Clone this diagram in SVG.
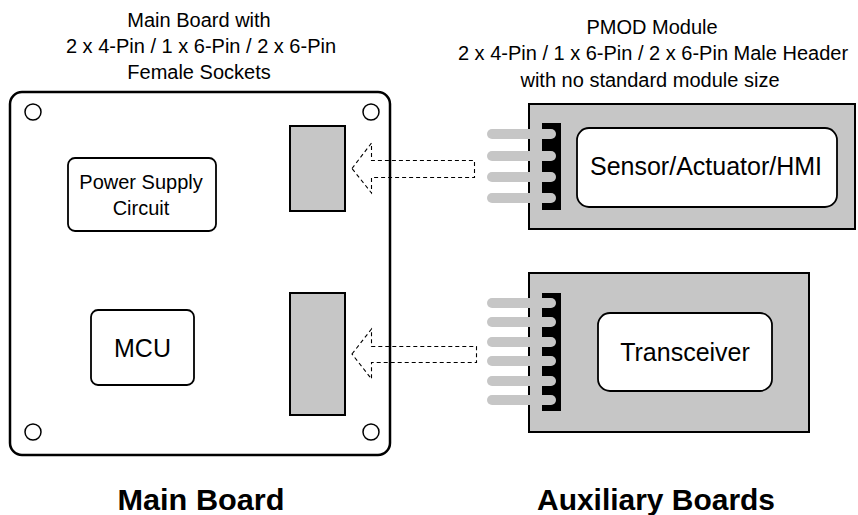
<svg xmlns="http://www.w3.org/2000/svg" width="858" height="515" viewBox="0 0 858 515">
<style>
text{font-family:"Liberation Sans",Arial,sans-serif;fill:#000;text-anchor:middle}
.t{font-size:20px}
.b{font-size:25px}
.h{font-size:30px;font-weight:bold}
.box{fill:#fff;stroke:#000;stroke-width:1.8}
.gray{fill:#c6c6c6;stroke:#000;stroke-width:2}
.hole{fill:#fff;stroke:#000;stroke-width:1.5}
.pin{stroke:#c6c6c6;stroke-width:10;stroke-linecap:round}
.arrow{fill:none;stroke:#000;stroke-width:1.1;stroke-dasharray:4 3}
</style>
<rect width="858" height="515" fill="#fff"/>
<g id="title-left">
<text class="t" x="199" y="27">Main Board with</text>
<text class="t" x="201" y="53">2 x 4-Pin / 1 x 6-Pin / 2 x 6-Pin</text>
<text class="t" x="199" y="79">Female Sockets</text>
</g>
<g id="title-right">
<text class="t" x="652" y="34">PMOD Module</text>
<text class="t" x="653" y="60">2 x 4-Pin / 1 x 6-Pin / 2 x 6-Pin Male Header</text>
<text class="t" x="650" y="87">with no standard module size</text>
</g>
<g id="main-board">
<rect x="10" y="92" width="380" height="363" rx="12" fill="#fff" stroke="#000" stroke-width="2.5"/>
<circle class="hole" cx="33" cy="112" r="8"/>
<circle class="hole" cx="371" cy="112" r="8"/>
<circle class="hole" cx="33" cy="432" r="8"/>
<circle class="hole" cx="371" cy="432" r="8"/>
</g>
<g id="power-supply">
<rect class="box" x="68" y="158" width="148" height="73" rx="7"/>
<text class="t" x="141" y="189">Power Supply</text>
<text class="t" x="141" y="215">Circuit</text>
</g>
<g id="mcu">
<rect class="box" x="91" y="310" width="103" height="75" rx="7"/>
<text class="b" x="142.5" y="357">MCU</text>
</g>
<g id="socket-1"><rect class="gray" x="290" y="126" width="55" height="85"/></g>
<g id="socket-2"><rect class="gray" x="290" y="293" width="55" height="122"/></g>
<g id="module-1">
<rect class="gray" x="529" y="104" width="326" height="125"/>
<rect x="542" y="123" width="19" height="87" fill="#000"/>
<line class="pin" x1="492" y1="134" x2="551" y2="134"/>
<line class="pin" x1="492" y1="156" x2="551" y2="156"/>
<line class="pin" x1="492" y1="177" x2="551" y2="177"/>
<line class="pin" x1="492" y1="198" x2="551" y2="198"/>
<rect class="box" x="577" y="128" width="260" height="79" rx="12"/>
<text class="b" x="706" y="175">Sensor/Actuator/HMI</text>
</g>
<g id="module-2">
<rect class="gray" x="529" y="273" width="280" height="159"/>
<rect x="542" y="293" width="19" height="118" fill="#000"/>
<line class="pin" x1="492" y1="303" x2="551" y2="303"/>
<line class="pin" x1="492" y1="322" x2="551" y2="322"/>
<line class="pin" x1="492" y1="342" x2="551" y2="342"/>
<line class="pin" x1="492" y1="361" x2="551" y2="361"/>
<line class="pin" x1="492" y1="381" x2="551" y2="381"/>
<line class="pin" x1="492" y1="400" x2="551" y2="400"/>
<rect class="box" x="598" y="313" width="174" height="78" rx="12"/>
<text class="b" x="685" y="361">Transceiver</text>
</g>
<g id="connectors">
<polygon class="arrow" points="352,168.5 371.5,143 371.5,160.5 474.5,160.5 474.5,177.5 371.5,177.5 371.5,193"/>
<polygon class="arrow" points="352,354 371.5,329 371.5,346.5 476.5,346.5 476.5,362.5 371.5,362.5 371.5,379"/>
</g>
<g id="labels">
<text class="h" x="201" y="510" textLength="167" lengthAdjust="spacingAndGlyphs">Main Board</text>
<text class="h" x="656" y="510" textLength="238" lengthAdjust="spacingAndGlyphs">Auxiliary Boards</text>
</g>
</svg>
